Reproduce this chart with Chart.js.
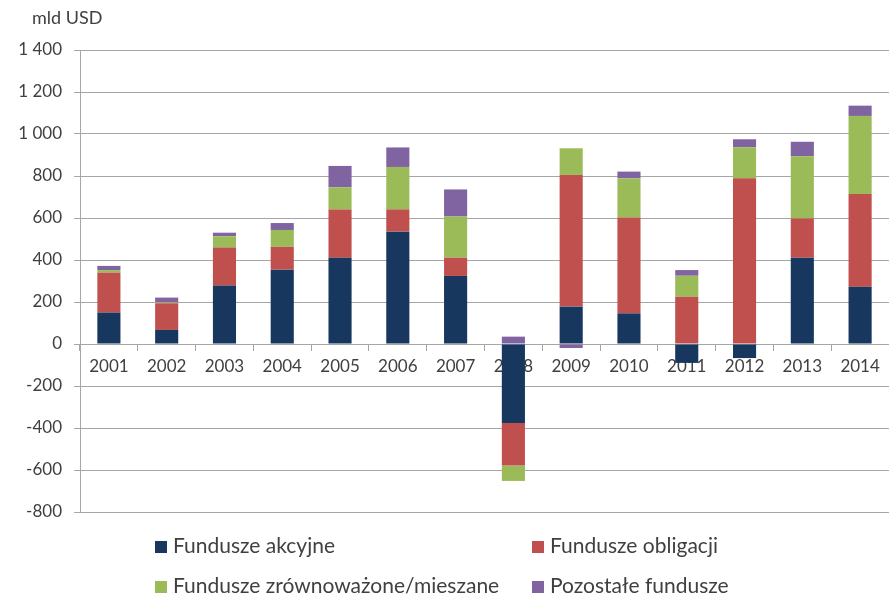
<!DOCTYPE html>
<html>
<head>
<meta charset="utf-8">
<script src="https://cdn.jsdelivr.net/npm/chart.js@4"></script>
<style>
	body { margin: 0; background: #fff; }
	#wrap { position: relative; width: 889px; height: 595px; font-family: Lato, 'Open Sans', sans-serif; color: #404040; }
	#unit { position: absolute; left: 32px; top: 6px; font-size: 18px; }
	.leg { position: absolute; font-size: 21px; white-space: nowrap; line-height: 24px; }
	.leg i { display: inline-block; width: 12px; height: 12px; margin-right: 6px; vertical-align: 0px; }
</style>
</head>
<body>
<div id="wrap">
	<canvas id="barChart" width="889" height="595"></canvas>
	<div id="unit">mld USD</div>
	<div class="leg" style="left:155px;top:533px"><i style="background:#17375E"></i>Fundusze akcyjne</div>
	<div class="leg" style="left:532px;top:533px"><i style="background:#C0504D"></i>Fundusze obligacji</div>
	<div class="leg" style="left:155px;top:573px"><i style="background:#9BBB59"></i>Fundusze zrównoważone/mieszane</div>
	<div class="leg" style="left:532px;top:573px"><i style="background:#8064A2"></i>Pozostałe fundusze</div>
</div>
<script>
var years = ['2001','2002','2003','2004','2005','2006','2007','2008','2009','2010','2011','2012','2013','2014'];
var akcyjne     = [150,  67, 278, 354, 411, 535, 324, -376, 178, 146, -90, -67, 411, 273];
var obligacji   = [190, 127, 181, 109, 229, 106,  87, -203, 627, 456, 225, 789, 187, 441];
var mieszane    = [ 12,   4,  54,  80, 106, 202, 196,  -73, 127, 187, 100, 148, 296, 372];
var pozostale   = [ 20,  23,  17,  33, 102,  93, 129,   35, -19,  32,  27,  38,  69,  49];
var yTicks = { min: -800, max: 1400, step: 200 };

var fmt = function(v) {
	var s = Math.abs(v).toString().replace(/\B(?=(\d{3})+(?!\d))/g, ' ');
	return (v < 0 ? '-' : '') + s;
};

Chart.defaults.font.family = 'Lato, "Open Sans", sans-serif';
Chart.defaults.color = '#404040';
Chart.defaults.animation = false;

var ctx = document.getElementById('barChart');
var barChart = new Chart(ctx, {
	type: 'bar',
	data: {
		labels: years,
		datasets: [
			{ label: 'Fundusze akcyjne', data: akcyjne, backgroundColor: '#17375E' },
			{ label: 'Fundusze obligacji', data: obligacji, backgroundColor: '#C0504D' },
			{ label: 'Fundusze zrównoważone/mieszane', data: mieszane, backgroundColor: '#9BBB59' },
			{ label: 'Pozostałe fundusze', data: pozostale, backgroundColor: '#8064A2' }
		]
	},
	options: {
		responsive: false,
		maintainAspectRatio: false,
		layout: { padding: { top: 50, right: 0, bottom: 83, left: 0 } },
		datasets: { bar: { barPercentage: 0.4, categoryPercentage: 1 } },
		plugins: {
			legend: { display: false },
			tooltip: { enabled: false }
		},
		scales: {
			x: {
				stacked: true,
				position: { y: 0 },
				z: 1,
				grid: { display: true, drawOnChartArea: false, tickLength: 6, color: '#a6a6a6', offset: true },
				border: { display: true, color: '#a6a6a6' },
				ticks: { font: { size: 17 }, padding: 6, maxRotation: 0, autoSkip: false }
			},
			y: {
				stacked: true,
				min: yTicks.min,
				max: yTicks.max,
				afterFit: function(scale) { scale.width = 80; },
				grid: { color: '#a6a6a6', tickLength: 6 },
				border: { display: true, color: '#a6a6a6' },
				ticks: { stepSize: yTicks.step, font: { size: 17 }, padding: 12, callback: function(v) { return fmt(v); } }
			}
		}
	}
});
</script>
</body>
</html>
